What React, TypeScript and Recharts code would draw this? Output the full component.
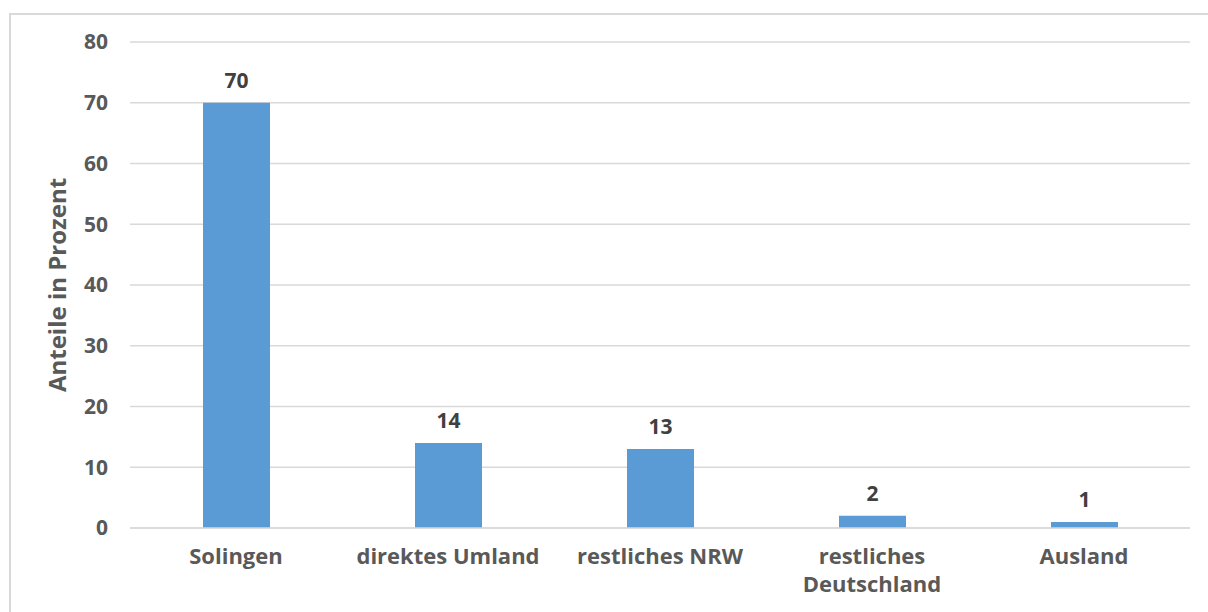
import React from 'react';
import { BarChart, Bar, XAxis, YAxis, CartesianGrid, LabelList } from 'recharts';

const categories = ['Solingen', 'direktes Umland', 'restliches NRW', 'restliches\nDeutschland', 'Ausland'];
const shares = [70, 14, 13, 2, 1];
const yTicks = [0, 10, 20, 30, 40, 50, 60, 70, 80];

const data = categories.map((name, i) => ({ name, value: shares[i] }));

const FONT = '"Open Sans", "Noto Sans", sans-serif';

function CategoryTick({ x, y, payload }: any) {
    const lines = String(payload.value).split('\n');
    return (
        <text x={x} y={y} textAnchor="middle" fill="#595959" fontSize={22} fontWeight={700} fontFamily={FONT}>
            {lines.map((line, i) => (
                <tspan key={i} x={x} dy={i === 0 ? 28 : 28}>
                    {line}
                </tspan>
            ))}
        </text>
    );
}

export default function App() {
    return (
        <div style={{ position: 'fixed', left: 0, top: 0, width: 1208, height: 612, background: '#fff' }}>
            <div
                style={{
                    position: 'absolute',
                    left: 9,
                    top: 13,
                    width: 1240,
                    height: 640,
                    border: '2px solid #d9d9d9',
                }}
            />
            <div style={{ position: 'absolute', left: 0, top: 0 }}>
                <BarChart width={1208} height={612} data={data} margin={{ top: 42, right: 18, left: 0, bottom: 14 }}>
                    <CartesianGrid vertical={false} stroke="#d9d9d9" strokeWidth={1.5} />
                    <XAxis
                        dataKey="name"
                        axisLine={{ stroke: '#d9d9d9', strokeWidth: 1.5 }}
                        tickLine={false}
                        tick={<CategoryTick />}
                        height={70}
                        interval={0}
                    />
                    <YAxis
                        width={130}
                        domain={[0, 80]}
                        ticks={yTicks}
                        axisLine={false}
                        tickLine={false}
                        tickSize={0}
                        tickMargin={22}
                        tick={{ fill: '#595959', fontSize: 21, fontWeight: 700, fontFamily: FONT }}
                        label={{
                            value: 'Anteile in Prozent',
                            angle: -90,
                            position: 'insideLeft',
                            dx: 52,
                            style: { fill: '#595959', fontSize: 24, fontWeight: 700, fontFamily: FONT, textAnchor: 'middle' },
                        }}
                    />
                    <Bar dataKey="value" fill="#5b9bd5" barSize={67} isAnimationActive={false}>
                        <LabelList
                            dataKey="value"
                            position="top"
                            offset={15}
                            fill="#404040"
                            fontSize={21}
                            fontWeight={700}
                            fontFamily={FONT}
                        />
                    </Bar>
                </BarChart>
            </div>
        </div>
    );
}
